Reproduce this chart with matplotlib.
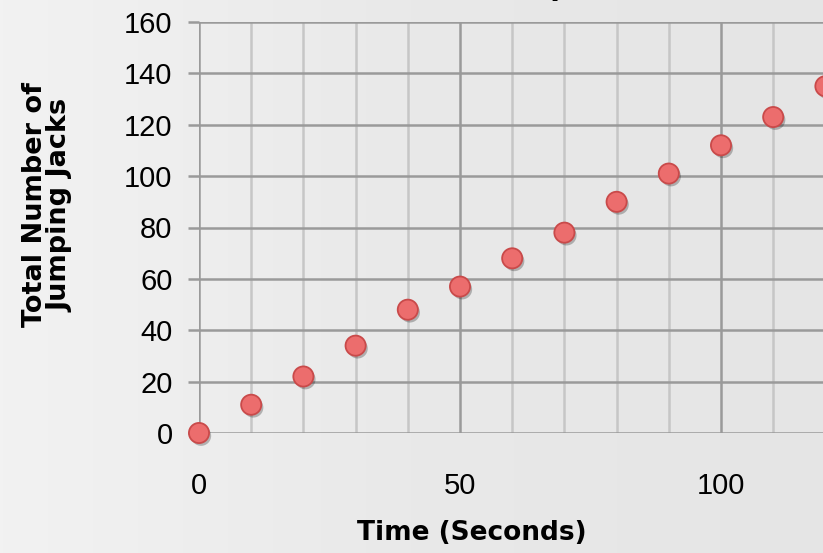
import matplotlib
matplotlib.use("Agg")
import matplotlib.pyplot as plt
import matplotlib.patheffects as pe
import numpy as np
from matplotlib.ticker import MultipleLocator

# seconds vs. running total of jumping jacks
time_seconds = [0, 10, 20, 30, 40, 50, 60, 70, 80, 90, 100, 110, 120]
total_jacks = [0, 11, 22, 34, 48, 57, 68, 78, 90, 101, 112, 123, 135]

x_ticks = [0, 50, 100]
y_ticks = [0, 20, 40, 60, 80, 100, 120, 140, 160]

bg = "#ebebeb"
tick_font = ["Liberation Sans", "DejaVu Sans"]
label_font = ["DejaVu Sans"]

fig = plt.figure(figsize=(8.23, 5.53), dpi=100, facecolor=bg)

# soft light-to-grey backdrop
bg_ax = fig.add_axes([0, 0, 1, 1], zorder=-10)
bg_ax.imshow(np.linspace(0, 1, 256).reshape(1, -1), cmap=matplotlib.colors.LinearSegmentedColormap.from_list(
    "bg", ["#f2f2f2", "#e9e9e9", "#e5e5e5"]), aspect="auto", extent=[0, 1, 0, 1])
bg_ax.axis("off")

# axes runs off the right edge, like the cropped original
ax = fig.add_axes([199 / 823, 120 / 553, 130 * 5.22 / 823, 411 / 553])
ax.set_facecolor("none")

ax.set_xticks(x_ticks)
ax.xaxis.set_minor_locator(MultipleLocator(10))
ax.set_yticks(y_ticks)
ax.set_xlim(0, 130)
ax.set_ylim(0, 160)

ax.grid(True, which="minor", axis="x", color="#c6c6c6", lw=1.8)
ax.grid(True, which="major", axis="x", color="#9a9a9a", lw=1.8)
ax.grid(True, which="major", axis="y", color="#9a9a9a", lw=1.8)
ax.set_axisbelow(True)
for s in ax.spines.values():
    s.set_visible(False)

ax.tick_params(axis="x", which="both", length=0, pad=28, labelsize=21)
ax.tick_params(axis="y", length=8, width=1.8, color="#9a9a9a", pad=11, labelsize=21)
for lab in ax.get_xticklabels() + ax.get_yticklabels():
    lab.set_family(tick_font)

ax.plot(time_seconds, total_jacks, "o", ms=14.5, mfc="#ec6d6d", mec="#c94a4a",
        mew=1.3, clip_on=False, zorder=5,
        path_effects=[pe.SimplePatchShadow(offset=(1.5, -2), shadow_rgbFace="k", alpha=0.25),
                      pe.Normal()])

fig.text(48 / 823, 1 - 205 / 553, "Total Number of\nJumping Jacks", rotation=90,
         ha="center", va="center", fontsize=19.5, fontweight="bold",
         family=label_font, linespacing=1.0)
fig.text(472 / 823, 1 - 533 / 553, "Time (Seconds)", ha="center", va="center",
         fontsize=19, fontweight="bold", family=label_font)
fig.text(480 / 823, 1 + 5 / 553, "Scatter Graph", ha="center", va="baseline",
         fontsize=20, fontweight="bold", family=label_font)

fig.savefig("out.png", dpi=100, facecolor=bg)
